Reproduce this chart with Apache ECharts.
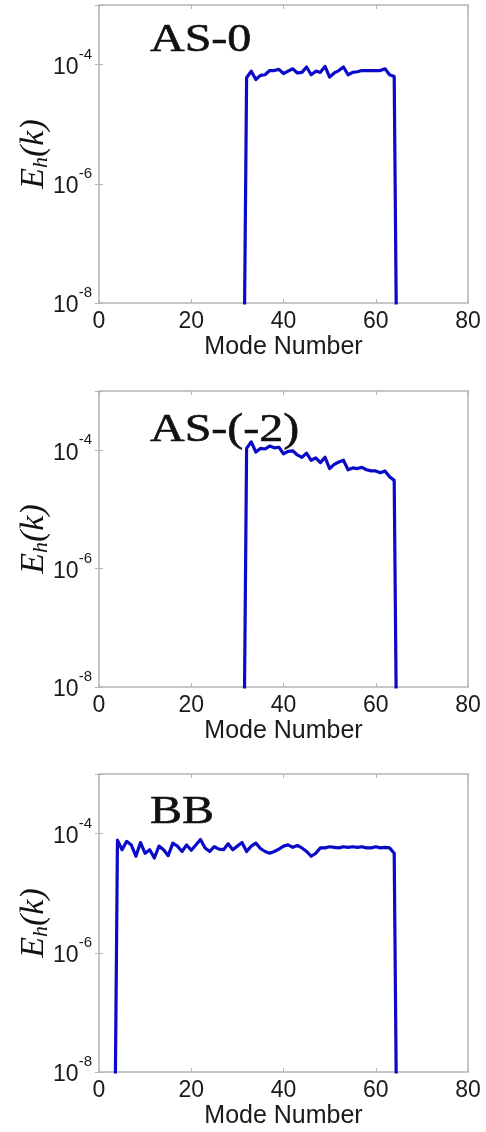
<!DOCTYPE html>
<html>
<head>
<meta charset="utf-8">
<script src="https://cdn.jsdelivr.net/npm/echarts@6/dist/echarts.min.js"></script>
<style>
  html, body { margin: 0; padding: 0; background: #fff; }
  #chart { width: 486px; height: 1132px; }
</style>
</head>
<body>
<div id="chart"></div>
<script>
// panel names
var panelTitles = ['AS-0', 'AS-(-2)', 'BB'];

// mode numbers and log10 of E_h(k) (first/last point drop below 1e-8)
var asZeroModes = [31, 32, 33, 34, 35, 36, 37, 38, 39, 40, 41, 42, 43, 44, 45, 46, 47, 48,
  49, 50, 51, 52, 53, 54, 55, 56, 57, 58, 59, 60, 61, 62, 63, 64, 65];
var asZeroLog = [-13, -4.22, -4.11, -4.25, -4.18, -4.17, -4.10, -4.10, -4.08, -4.15, -4.11, -4.07,
  -4.14, -4.13, -4.04, -4.17, -4.11, -4.13, -4.03, -4.21, -4.14, -4.10, -4.04, -4.17, -4.13,
  -4.12, -4.10, -4.10, -4.10, -4.10, -4.10, -4.07, -4.17, -4.20, -13];

var asMinus2Modes = asZeroModes;
var asMinus2Log = [-13, -3.97, -3.86, -4.03, -3.97, -3.98, -3.93, -3.96, -3.95, -4.06, -4.02, -4.01,
  -4.08, -4.12, -4.05, -4.17, -4.13, -4.21, -4.12, -4.31, -4.24, -4.20, -4.17, -4.33, -4.30,
  -4.31, -4.29, -4.33, -4.35, -4.35, -4.38, -4.35, -4.45, -4.51, -13];

var bbModes = [3, 4, 5, 6, 7, 8, 9, 10, 11, 12, 13, 14, 15, 16, 17, 18, 19, 20, 21, 22, 23, 24,
  25, 26, 27, 28, 29, 30, 31, 32, 33, 34, 35, 36, 37, 38, 39, 40, 41, 42, 43, 44, 45, 46, 47,
  48, 49, 50, 51, 52, 53, 54, 55, 56, 57, 58, 59, 60, 61, 62, 63, 64, 65];
var bbLog = [-13, -4.11, -4.27, -4.13, -4.19, -4.38, -4.15, -4.33, -4.27, -4.41, -4.21, -4.27,
  -4.37, -4.16, -4.21, -4.30, -4.19, -4.28, -4.19, -4.10, -4.24, -4.30, -4.22, -4.26, -4.27,
  -4.17, -4.27, -4.21, -4.15, -4.30, -4.21, -4.16, -4.25, -4.30, -4.33, -4.30, -4.26, -4.21,
  -4.19, -4.23, -4.20, -4.24, -4.30, -4.38, -4.33, -4.24, -4.24, -4.22, -4.23, -4.24, -4.22,
  -4.23, -4.22, -4.23, -4.22, -4.24, -4.24, -4.22, -4.24, -4.23, -4.24, -4.33, -13];

// axis ticks
var xTicks = [0, 20, 40, 60, 80];
var yMinExp = -8, yMaxExp = -3, yStepExp = 2;

var chart = echarts.init(document.getElementById('chart'));

var grids = [
  { left: 99, width: 369, top: 5, height: 298 },
  { left: 99, width: 369, top: 391, height: 296 },
  { left: 99, width: 369, top: 774, height: 298 }
];
var titleTops = [20, 410, 792];

function toPairs(modes, logs) {
  return modes.map(function (m, i) { return [m, Math.pow(10, logs[i])]; });
}
var seriesData = [
  toPairs(asZeroModes, asZeroLog),
  toPairs(asMinus2Modes, asMinus2Log),
  toPairs(bbModes, bbLog)
];

var boxColor = '#b4b4b4';
var textColor = '#1a1a1a';
var xAxes = [], yAxes = [], series = [], graphics = [];

grids.forEach(function (g, i) {
  g.show = true;
  g.borderColor = boxColor;
  g.borderWidth = 1.5;
  g.backgroundColor = '#fff';
  g.outerBoundsMode = 'none';
  g.containLabel = false;

  xAxes.push({
    type: 'value', gridIndex: i, min: xTicks[0], max: xTicks[xTicks.length - 1], interval: 20,
    position: 'bottom',
    name: 'Mode Number', nameLocation: 'middle', nameGap: 32, nameMoveOverlap: false,
    nameTextStyle: { fontFamily: 'Liberation Sans', fontSize: 25, color: textColor },
    axisLine: { show: false },
    axisTick: { show: true, inside: true, length: 4, lineStyle: { color: boxColor } },
    axisLabel: { fontFamily: 'Liberation Sans', fontSize: 23, color: textColor, margin: 7 },
    splitLine: { show: false }
  });
  xAxes.push({
    type: 'value', gridIndex: i, min: xTicks[0], max: xTicks[xTicks.length - 1], interval: 20,
    position: 'top',
    axisLine: { show: false },
    axisTick: { show: true, inside: true, length: 4, lineStyle: { color: boxColor } },
    axisLabel: { show: false },
    splitLine: { show: false }
  });
  yAxes.push({
    type: 'log', logBase: 10, gridIndex: i,
    min: Math.pow(10, yMinExp), max: Math.pow(10, yMaxExp), interval: yStepExp,
    position: 'left',
    name: '{e|E}{h|h}{e|(k)}', nameLocation: 'middle', nameGap: 47, nameMoveOverlap: false,
    nameTextStyle: {
      rich: {
        e: { fontFamily: 'Liberation Serif', fontStyle: 'italic', fontSize: 34, color: '#111' },
        h: { fontFamily: 'Liberation Serif', fontStyle: 'italic', fontSize: 22, color: '#111',
             verticalAlign: 'bottom', padding: [14, 0, 0, 0] }
      }
    },
    axisLine: { show: false },
    axisTick: { show: true, inside: true, length: 4, lineStyle: { color: boxColor } },
    axisLabel: {
      margin: 7,
      formatter: function (v) {
        var e = Math.round(Math.log10(v));
        if (e > -4) return '';
        return '{b|10}{s|' + e + '}';
      },
      rich: {
        b: { fontFamily: 'Liberation Sans', fontSize: 23, color: textColor, padding: [6, 0, 0, 0] },
        s: { fontFamily: 'Liberation Sans', fontSize: 15, color: textColor, padding: [0, 0, 20, 0] }
      }
    },
    splitLine: { show: false }
  });
  yAxes.push({
    type: 'log', logBase: 10, gridIndex: i,
    min: Math.pow(10, yMinExp), max: Math.pow(10, yMaxExp), interval: yStepExp,
    position: 'right',
    axisLine: { show: false },
    axisTick: { show: true, inside: true, length: 4, lineStyle: { color: boxColor } },
    axisLabel: { show: false },
    splitLine: { show: false }
  });

  series.push({
    type: 'line', xAxisIndex: i * 2, yAxisIndex: i * 2,
    data: seriesData[i], showSymbol: false, clip: true,
    lineStyle: { color: '#0a0ac8', width: 3.2, join: 'round' },
    animation: false
  });

  graphics.push({
    type: 'text', x: 150, y: titleTops[i], scaleX: 1.2, z: 100,
    style: {
      text: panelTitles[i], fontFamily: 'Liberation Serif', fontSize: 40,
      fill: '#111', verticalAlign: 'top', stroke: '#111', lineWidth: 0.6
    }
  });
});

chart.setOption({
  animation: false,
  grid: grids,
  xAxis: xAxes,
  yAxis: yAxes,
  series: series,
  graphic: graphics
});
</script>
</body>
</html>
